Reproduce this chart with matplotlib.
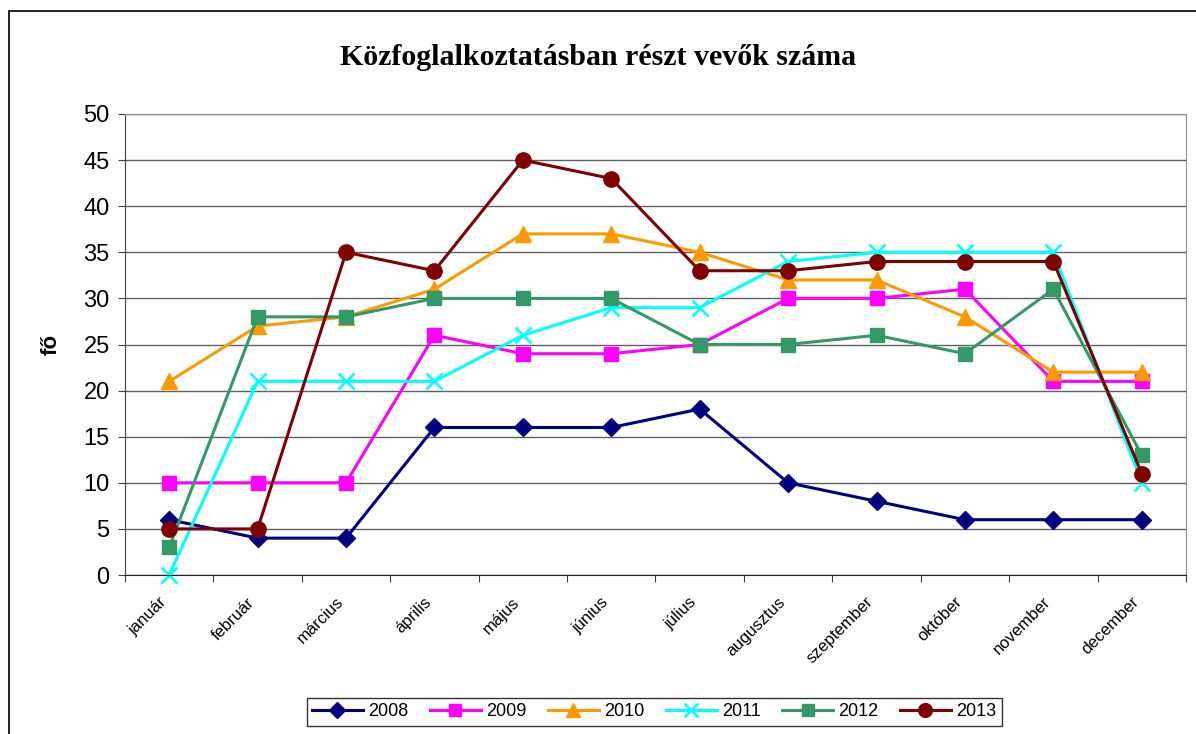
import matplotlib.pyplot as plt
from matplotlib.patches import Rectangle
import numpy as np

months = ['január', 'február', 'március', 'április', 'május', 'június',
          'július', 'augusztus', 'szeptember', 'október', 'november', 'december']
v2008 = [6, 4, 4, 16, 16, 16, 18, 10, 8, 6, 6, 6]
v2009 = [10, 10, 10, 26, 24, 24, 25, 30, 30, 31, 21, 21]
v2010 = [21, 27, 28, 31, 37, 37, 35, 32, 32, 28, 22, 22]
v2011 = [0, 21, 21, 21, 26, 29, 29, 34, 35, 35, 35, 10]
v2012 = [3, 28, 28, 30, 30, 30, 25, 25, 26, 24, 31, 13]
v2013 = [5, 5, 35, 33, 45, 43, 33, 33, 34, 34, 34, 11]

series = [
    ('2008', v2008, '#000080', 'D', 9),
    ('2009', v2009, '#FF00FF', 's', 10),
    ('2010', v2010, '#FF9900', '^', 11),
    ('2011', v2011, '#00FFFF', 'x', 11),
    ('2012', v2012, '#339966', 's', 10),
    ('2013', v2013, '#800000', 'o', 11),
]

fig = plt.figure(figsize=(11.96, 7.34), dpi=100)
ax = fig.add_axes([0.1045, 0.2166, 0.8871, 0.6281])

x = np.arange(len(months)) + 0.5
for name, vals, col, mk, ms in series:
    ax.plot(x, vals, color=col, marker=mk, markersize=ms, linewidth=2.2,
            markeredgewidth=1.8 if mk == 'x' else 1, label=name, clip_on=False)

ax.set_xlim(0, 12)
ax.set_ylim(0, 50)
ax.set_yticks(range(0, 51, 5))
ax.set_xticks(range(0, 13))
ax.set_xticklabels([])
# labels sit a bit left of the category centre, like excel does
ax.set_xticks(x - 0.12, minor=True)
ax.set_xticklabels(months, minor=True, rotation=45, ha='right', va='top',
                   fontsize=12, family='Liberation Sans', rotation_mode='anchor')
ax.tick_params(axis='x', which='minor', length=0, pad=14)
ax.tick_params(axis='x', which='major', length=5, direction='out', color='#404040')
ax.tick_params(axis='y', length=5, direction='out', color='#404040', labelsize=17, pad=6)
for lbl in ax.get_yticklabels():
    lbl.set_family('Liberation Sans')
ax.yaxis.grid(True, color='#606060', linewidth=1)
ax.set_axisbelow(True)
ax.spines['top'].set_color('#909090')
ax.spines['right'].set_color('#909090')
ax.spines['left'].set_color('#404040')
ax.spines['bottom'].set_color('#202020')

ax.set_ylabel('fő', fontsize=16, fontweight='bold', family='Liberation Sans', labelpad=16)
fig.text(0.5, 0.922, 'Közfoglalkoztatásban részt vevők száma', ha='center', va='center',
         fontsize=21.5, fontweight='bold', family='Liberation Serif')

leg = ax.legend(loc='center', bbox_to_anchor=(0.547, 0.030), bbox_transform=fig.transFigure,
                ncol=6, frameon=True, fancybox=False, edgecolor='black',
                prop={'family': 'Liberation Sans', 'size': 13},
                handlelength=2.8, columnspacing=1.2, handletextpad=0.3,
                borderpad=0.3, markerscale=0.9)
leg.get_frame().set_linewidth(1)

fig.patches.append(Rectangle((9 / 1196, -0.1), 1.0, (723 / 734) + 0.1,
                             transform=fig.transFigure, fill=False,
                             edgecolor='black', linewidth=1.2))

fig.savefig('out.png', dpi=100)
